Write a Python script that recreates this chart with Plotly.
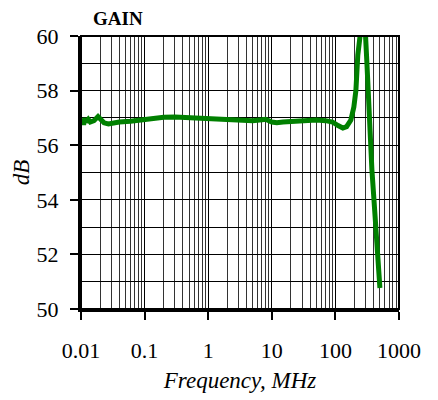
import plotly.graph_objects as go

freq_mhz = [0.01, 0.0105, 0.011, 0.0115, 0.012, 0.013, 0.014, 0.016, 0.0185, 0.02,
            0.023, 0.027, 0.032, 0.04, 0.06, 0.08, 0.1, 0.15, 0.2, 0.3, 0.5,
            1, 2, 3, 5, 7, 8, 10, 12, 15, 20, 30, 50, 70, 90, 110, 131, 150,
            165, 175, 195, 210, 225, 238, 256, 275, 295, 313, 349, 375, 404, 434, 466, 501]
gain_db = [56.85, 56.95, 56.75, 57.0, 56.85, 56.95, 56.85, 56.9, 57.05, 56.95,
           56.82, 56.78, 56.82, 56.85, 56.88, 56.92, 56.95, 57.0, 57.02, 57.03, 57.0,
           56.95, 56.93, 56.9, 56.9, 56.93, 56.95, 56.85, 56.82, 56.85, 56.87, 56.88, 56.92, 56.9, 56.85, 56.72, 56.63, 56.68,
           56.8, 56.92, 57.4, 58.0, 59.3, 60.0, 60.4, 60.6, 60.2, 59.0, 56.2, 55.1, 54.0, 52.9, 51.9, 50.77]

x_tick_vals = [0.01, 0.1, 1, 10, 100, 1000]
x_tick_text = ["0.01", "0.1", "1", "10", "100", "1000"]

FONT = "Liberation Serif, Times New Roman, serif"

fig = go.Figure()
fig.add_trace(go.Scatter(x=freq_mhz, y=gain_db, mode="lines",
                         line=dict(color="#008000", width=5),
                         showlegend=False))

# page body has an 8px margin, so the figure is sized 430x392
fig.update_layout(
    width=430, height=392,
    margin=dict(l=73, r=39, t=28, b=91),
    paper_bgcolor="white", plot_bgcolor="white",
    font=dict(family=FONT, color="black", size=22),
    xaxis=dict(type="log", range=[-2, 3], tickvals=x_tick_vals, ticktext=x_tick_text,
               automargin=False,
               showgrid=True, gridcolor="black", gridwidth=1,
               minor=dict(dtick="D1", showgrid=True, gridcolor="#333333", gridwidth=1, ticks=""),
               showline=True, linecolor="black", linewidth=3,
               ticks="outside", ticklen=8, tickwidth=2, tickcolor="black",
               ticklabelstandoff=12, zeroline=False,
               title=dict(text="<i>Frequency, MHz</i>", font=dict(size=23), standoff=10)),
    yaxis=dict(range=[50, 60], dtick=2, tick0=50,
               automargin=False,
               showgrid=True, gridcolor="black", gridwidth=1,
               minor=dict(dtick=1, showgrid=True, gridcolor="black", gridwidth=1, ticks=""),
               showline=True, linecolor="black", linewidth=3,
               ticks="outside", ticklen=8, tickwidth=2, tickcolor="black",
               ticklabelstandoff=7, zeroline=False,
               title=dict(text="<i>dB</i>", font=dict(size=23), standoff=1)),
    shapes=[dict(type="rect", xref="x domain", yref="y domain", x0=0, x1=1, y0=0, y1=1,
                 line=dict(color="black", width=2), layer="above")],
    annotations=[dict(text="<b>GAIN</b>", xref="paper", yref="paper", x=0.031, y=1.0,
                      xanchor="left", yanchor="bottom", yshift=5, showarrow=False,
                      font=dict(size=19, family=FONT))],
)

fig.write_html("out.html")
